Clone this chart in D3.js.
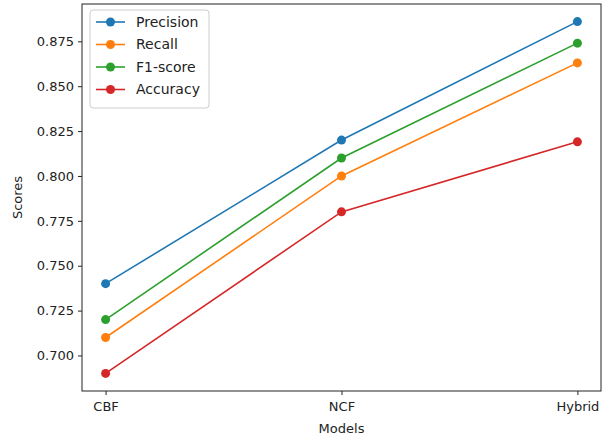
<!DOCTYPE html>
<html>
<head>
<meta charset="utf-8">
<script src="https://cdn.jsdelivr.net/npm/d3@7"></script>
<style>
    body { margin: 0; background: #fff; }
    svg { display: block; font-family: "DejaVu Sans", sans-serif; }
</style>
</head>
<body>
<svg id="chart" width="605" height="436"></svg>
<script>
var models = ['CBF', 'NCF', 'Hybrid'];
var precision = [0.74, 0.82, 0.886];
var recall = [0.71, 0.80, 0.863];
var f1score = [0.72, 0.81, 0.874];
var accuracy = [0.69, 0.78, 0.819];
var yTicks = [0.700, 0.725, 0.750, 0.775, 0.800, 0.825, 0.850, 0.875];

var series = [
    {name: 'Precision', values: precision, color: '#1f77b4'},
    {name: 'Recall', values: recall, color: '#ff7f0e'},
    {name: 'F1-score', values: f1score, color: '#2ca02c'},
    {name: 'Accuracy', values: accuracy, color: '#d62728'}
];

(function () {
    'use strict';
    var svg = d3.select('#chart');
    var left = 82, right = 601, top = 4, bottom = 391;

    var x = d3.scalePoint().domain(models).range([left, right]).padding(0.1);

    var all = [].concat(precision, recall, f1score, accuracy);
    var lo = d3.min(all), hi = d3.max(all), pad = (hi - lo) * 0.05;
    var y = d3.scaleLinear().domain([lo - pad, hi + pad]).range([bottom, top]);

    var xAxis = svg.append('g').attr('transform', 'translate(0,' + bottom + ')')
        .call(d3.axisBottom(x).tickSize(4).tickPadding(7));
    var yAxis = svg.append('g').attr('transform', 'translate(' + left + ',0)')
        .call(d3.axisLeft(y).tickValues(yTicks).tickFormat(d3.format('.3f')).tickSize(4).tickPadding(4));
    [xAxis, yAxis].forEach(function (a) {
        a.select('.domain').remove();
        a.selectAll('text').attr('font-size', 13).attr('fill', '#222').attr('font-family', '"DejaVu Sans", sans-serif');
        a.selectAll('line').attr('stroke', '#222');
    });

    svg.append('rect').attr('x', left).attr('y', top).attr('width', right - left).attr('height', bottom - top)
        .attr('fill', 'none').attr('stroke', '#222').attr('stroke-width', 1);

    var line = d3.line()
        .x(function (d, i) { return x(models[i]); })
        .y(function (d) { return y(d); });

    series.forEach(function (s) {
        svg.append('path').attr('d', line(s.values)).attr('fill', 'none')
            .attr('stroke', s.color).attr('stroke-width', 1.6);
        svg.selectAll(null).data(s.values).enter().append('circle')
            .attr('cx', function (d, i) { return x(models[i]); })
            .attr('cy', function (d) { return y(d); })
            .attr('r', 4.5).attr('fill', s.color);
    });

    // legend
    var lg = svg.append('g').attr('transform', 'translate(90,10)');
    lg.append('rect').attr('width', 119).attr('height', 98).attr('rx', 3)
        .attr('fill', '#fff').attr('fill-opacity', 0.8).attr('stroke', '#ccc');
    series.forEach(function (s, i) {
        var ly = 12 + i * 22.5;
        lg.append('line').attr('x1', 6).attr('x2', 35).attr('y1', ly).attr('y2', ly)
            .attr('stroke', s.color).attr('stroke-width', 1.6);
        lg.append('circle').attr('cx', 20.5).attr('cy', ly).attr('r', 4.5).attr('fill', s.color);
        lg.append('text').attr('x', 46).attr('y', ly).attr('dy', '0.35em')
            .attr('font-size', 14).attr('fill', '#222').text(s.name);
    });

    svg.append('text').attr('x', (left + right) / 2).attr('y', 433).attr('text-anchor', 'middle')
        .attr('font-size', 13).attr('fill', '#222').text('Models');
    svg.append('text').attr('transform', 'translate(22,' + (top + bottom) / 2 + ') rotate(-90)')
        .attr('text-anchor', 'middle').attr('font-size', 13).attr('fill', '#222').text('Scores');
})();
</script>
</body>
</html>
